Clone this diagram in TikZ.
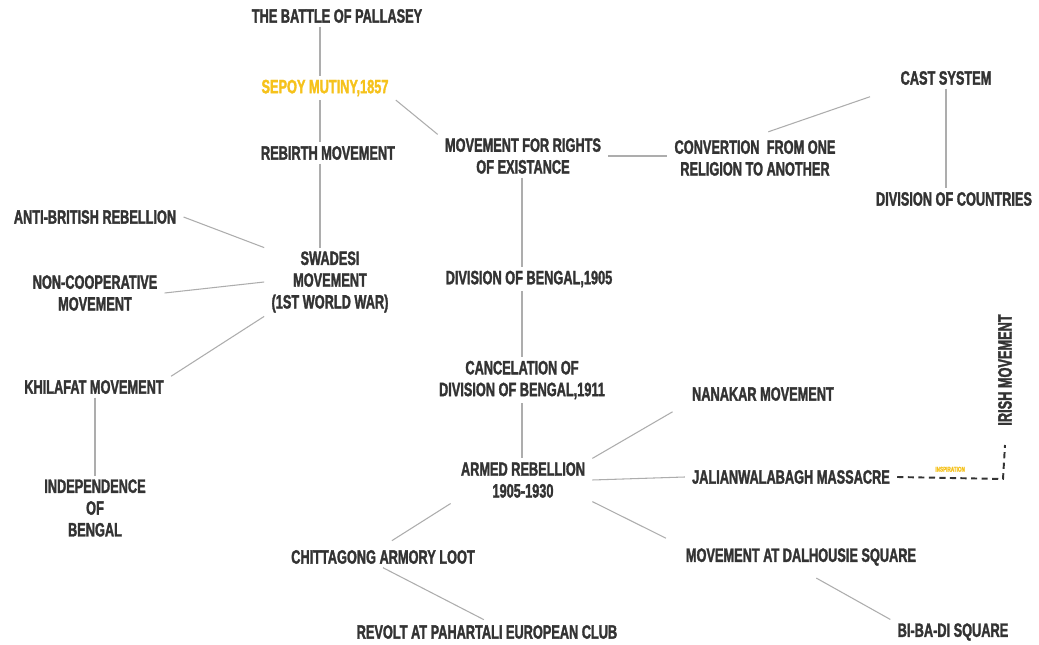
\documentclass[tikz,border=0pt]{standalone}
\usepackage{fontspec}
\setmainfont{Liberation Sans}[FakeStretch=0.66,BoldFeatures={FakeBold=1.6}]
\usepackage{tikz}
\usetikzlibrary{arrows.meta}
\definecolor{ink}{HTML}{333333}
\definecolor{wire}{HTML}{ADADAD}
\definecolor{gold}{HTML}{F6C21B}
\tikzset{every path/.style={thin},
  event/.style={text=ink,font=\fontsize{11}{12.4}\selectfont\bfseries,align=center,inner xsep=4pt,inner ysep=2pt},
  link/.style={draw=wire,line width=0.6pt},
  hint/.style={draw=ink,line width=1.1pt,dash pattern=on 3.5pt off 2.5pt}}

\begin{document}
\begin{tikzpicture}[x=0.02cm,y=-0.02cm]
\useasboundingbox[fill=white] (0,0) rectangle (1039,645);
% left branch
\node[event] (battle) at (337,16) {THE BATTLE OF PALLASEY};
\node[event,text=gold] (sepoy) at (325,88) {SEPOY MUTINY,1857};
\node[event] (rebirth) at (328,153) {REBIRTH MOVEMENT};
\node[event] (swadesi) at (330,282) {SWADESI\\MOVEMENT\\(1ST WORLD WAR)};
\node[event] (antibrit) at (95,217) {ANTI-BRITISH REBELLION};
\node[event] (noncoop) at (95,293) {NON-COOPERATIVE\\MOVEMENT};
\node[event] (khilafat) at (94,387) {KHILAFAT MOVEMENT};
\node[event] (indep) at (95,508) {INDEPENDENCE\\OF\\BENGAL};
% middle branch
\node[event] (rights) at (523,156) {MOVEMENT FOR RIGHTS\\OF EXISTANCE};
\node[event] (divbengal) at (529,279) {DIVISION OF BENGAL,1905};
\node[event] (cancel) at (522,380) {CANCELATION OF\\DIVISION OF BENGAL,1911};
\node[event] (armed) at (523,480) {ARMED REBELLION\\1905-1930};
\node[event] (nanakar) at (763,394) {NANAKAR MOVEMENT};
\node[event] (jalian) at (791,477) {JALIANWALABAGH MASSACRE};
\node[event] (chitta) at (383,557) {CHITTAGONG ARMORY LOOT};
\node[event] (pahartali) at (487,632) {REVOLT AT PAHARTALI EUROPEAN CLUB};
\node[event] (dalhousie) at (801,557) {MOVEMENT AT DALHOUSIE SQUARE};
\node[event] (bibadi) at (953,632) {BI-BA-DI SQUARE};
% right branch
\node[event] (convert) at (755,158) {CONVERTION~ FROM ONE\\RELIGION TO ANOTHER};
\node[event] (cast) at (946,78) {CAST SYSTEM};
\node[event] (divcountry) at (954,199) {DIVISION OF COUNTRIES};
\node[event,rotate=90] (irish) at (1005,370) {IRISH MOVEMENT};
\coordinate (bend) at (1003,479);

% connectors
\draw[link] (battle.south -| 320,0) -- (sepoy.north -| 320,0);
\draw[link] (sepoy.south -| 320,0) -- (rebirth.north -| 320,0);
\draw[link] (rebirth.south -| 320,0) -- (swadesi.north -| 320,0);
\draw[link] (sepoy.south east) -- (rights.north west);
\draw[link] (rights.east) -- (rights.east -| convert.west);
\draw[link,shorten <=8pt,shorten >=14pt] (convert.north) -- (cast.south west);
\draw[link] (cast.south -| 946,0) -- (divcountry.north -| 946,0);
\draw[link] (antibrit.east) -- (swadesi.north west);
\draw[link] (noncoop.east) -- (swadesi.west);
\draw[link] (swadesi.south west) -- (khilafat.north east);
\draw[link] (khilafat.south -| 95,0) -- (indep.north -| 95,0);
\draw[link] (rights.south -| 522,0) -- (divbengal.north -| 522,0);
\draw[link] (divbengal.south -| 522,0) -- (cancel.north -| 522,0);
\draw[link] (cancel.south -| 522,0) -- (armed.north -| 522,0);
\draw[link,shorten >=8pt] (armed.north east) -- (nanakar.south west);
\draw[link] (armed.east) -- (jalian.west);
\draw[link,shorten <=2pt,shorten >=6pt] (armed.south west) -- (chitta.north);
\draw[link,shorten >=8pt] (armed.south east) -- (dalhousie.north west);
\draw[link,shorten >=2pt] (chitta.south) -- (pahartali.north);
\draw[link,shorten <=10pt] (dalhousie.south) -- (bibadi.north west);
\draw[hint] (jalian.east) -- node[above=2pt,text=gold,font=\fontsize{4}{4.5}\selectfont\bfseries,inner sep=1pt] {INSPIRATION} (bend) -- (irish.west |- 0,445);
\end{tikzpicture}
\end{document}
